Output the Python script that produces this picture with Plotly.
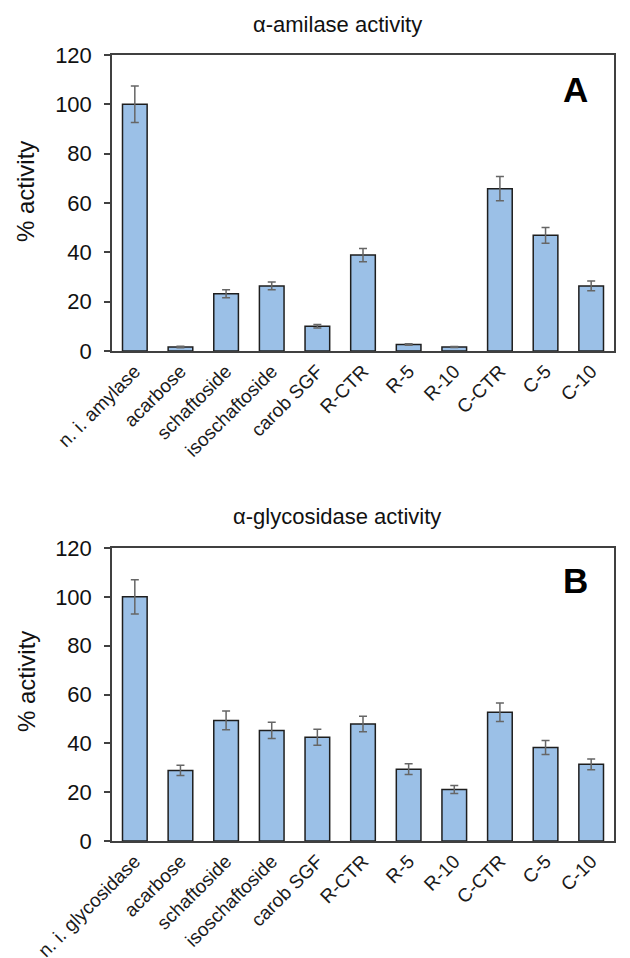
import plotly.graph_objects as go
from plotly.subplots import make_subplots

cats_a = ["n. i. amylase", "acarbose", "schaftoside", "isoschaftoside", "carob SGF",
          "R-CTR", "R-5", "R-10", "C-CTR", "C-5", "C-10"]
cats_b = ["n. i. glycosidase", "acarbose", "schaftoside", "isoschaftoside", "carob SGF",
          "R-CTR", "R-5", "R-10", "C-CTR", "C-5", "C-10"]
amylase = [100, 1.6, 23.2, 26.4, 10.0, 38.9, 2.6, 1.6, 65.8, 46.9, 26.4]
amylase_err = [7.4, 0.3, 1.6, 1.6, 0.7, 2.7, 0.3, 0.2, 4.9, 3.2, 2.0]
glyco = [100, 28.9, 49.4, 45.3, 42.5, 47.9, 29.4, 21.1, 52.7, 38.3, 31.4]
glyco_err = [7.0, 2.1, 3.8, 3.3, 3.3, 3.2, 2.2, 1.6, 3.8, 2.9, 2.2]

FONT = "Liberation Sans, Arial, sans-serif"
BAR = "#9BC0E7"
EDGE = "#1e1e1e"
AX = "#404040"

fig = make_subplots(rows=2, cols=1, vertical_spacing=0.0)

def add(cats, vals, errs, row):
    fig.add_trace(go.Bar(
        x=cats, y=vals,
        marker=dict(color=BAR, line=dict(color=EDGE, width=1.5)),
        error_y=dict(type="data", array=errs, visible=True, color="#666666",
                     thickness=1.5, width=4),
        showlegend=False), row=row, col=1)

add(cats_a, amylase, amylase_err, 1)
add(cats_b, glyco, glyco_err, 2)

# the page body has an 8px margin, so the figure is drawn 8px in from the window corner
OFF = 8
W, H = 630 - OFF, 958 - OFF
L = 112 - OFF
RIGHT = 614
R = 630 - RIGHT
T = 55 - OFF
ZERO_TOP, TOP_BOT, ZERO_BOT = 351 - OFF, 548 - OFF, 841 - OFF
B = H - ZERO_BOT
pw = W - L - R
ph = H - T - B

def px(x):
    return (x - OFF - L) / pw

def py(y):
    return (H - B - (y - OFF)) / ph

top_dom = [(ZERO_BOT - ZERO_TOP) / ph, 1.0]
bot_dom = [0.0, (ZERO_BOT - TOP_BOT) / ph]

xaxis_common = dict(showline=True, linecolor=AX, linewidth=1.5, mirror=True,
                    ticks="", tickangle=-45, showgrid=False, automargin=False,
                    tickfont=dict(family=FONT, size=19, color="#1a1a1a"))
yaxis_common = dict(showline=True, linecolor=AX, linewidth=1.5, mirror=True,
                    ticks="outside", ticklen=6, tickcolor=AX, tickwidth=1.5,
                    range=[0, 120], dtick=20, showgrid=False, zeroline=False,
                    ticklabelstandoff=8, automargin=False,
                    tickfont=dict(family=FONT, size=22, color="#111111"))

fig.update_layout(
    width=W, height=H,
    margin=dict(l=L, r=R, t=T, b=B),
    plot_bgcolor="white", paper_bgcolor="white",
    bargap=0.46,
    xaxis=dict(**xaxis_common, domain=[0, 1], anchor="y"),
    xaxis2=dict(**xaxis_common, domain=[0, 1], anchor="y2"),
    yaxis=dict(**yaxis_common, domain=top_dom, anchor="x"),
    yaxis2=dict(**yaxis_common, domain=bot_dom, anchor="x2"),
)

ann = []
ann.append(dict(text="α-amilase activity", x=px(337), y=py(24), xref="paper", yref="paper",
                showarrow=False, font=dict(family=FONT, size=22, color="#111111"),
                xanchor="center", yanchor="middle"))
ann.append(dict(text="α-glycosidase activity", x=px(337), y=py(516), xref="paper", yref="paper",
                showarrow=False, font=dict(family=FONT, size=22, color="#111111"),
                xanchor="center", yanchor="middle"))
ann.append(dict(text="<b>A</b>", x=px(575), y=py(90), xref="paper", yref="paper",
                showarrow=False, font=dict(family=FONT, size=35, color="black"),
                xanchor="center", yanchor="middle"))
ann.append(dict(text="<b>B</b>", x=px(575), y=py(580), xref="paper", yref="paper",
                showarrow=False, font=dict(family=FONT, size=35, color="black"),
                xanchor="center", yanchor="middle"))
ann.append(dict(text="% activity", x=px(26), y=py(192), xref="paper", yref="paper",
                showarrow=False, textangle=-90, font=dict(family=FONT, size=24, color="#111111"),
                xanchor="center", yanchor="middle"))
ann.append(dict(text="% activity", x=px(26), y=py(682), xref="paper", yref="paper",
                showarrow=False, textangle=-90, font=dict(family=FONT, size=24, color="#111111"),
                xanchor="center", yanchor="middle"))
fig.update_layout(annotations=ann)

fig.write_html("out.html")
